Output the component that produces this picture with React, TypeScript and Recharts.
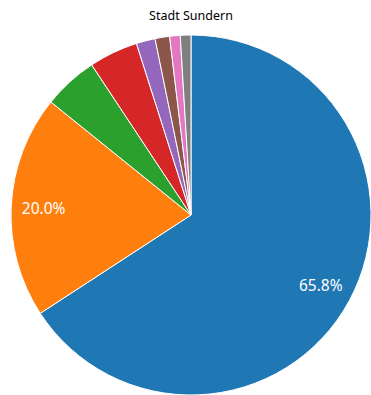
import { PieChart, Pie, Cell } from 'recharts'

const labels = ['A', 'B', 'C', 'D', 'E', 'F', 'G', 'H']
const shares = [65.8, 20.0, 4.9, 4.4, 1.7, 1.3, 0.95, 0.95]
const colors = ['#1f77b4', '#ff7f0e', '#2ca02c', '#d62728', '#9467bd', '#8c564b', '#e377c2', '#7f7f7f']
const title = 'Stadt Sundern'

const RAD = Math.PI / 180

// eslint-disable-next-line @typescript-eslint/no-explicit-any
const renderLabel = ({ cx, cy, midAngle, outerRadius, value }: any) => {
  if (value < 10) return null
  const r = outerRadius * 0.82
  const x = cx + r * Math.cos(-midAngle * RAD)
  const y = cy + r * Math.sin(-midAngle * RAD)
  return (
    <text x={x} y={y} fill="#fff" fontSize={15.5} textAnchor="middle" dominantBaseline="central" fontFamily="'Noto Sans', sans-serif">
      {`${value.toFixed(1)}%`}
    </text>
  )
}

export default function App() {
  const data = labels.map((name, i) => ({ name, value: shares[i] }))
  return (
    <div style={{ position: 'absolute', left: 0, top: 0, width: 371, height: 395, background: '#fff' }}>
      <PieChart width={371} height={395} margin={{ top: 0, right: 0, bottom: 0, left: 0 }}>
        <text x={191} y={15} textAnchor="middle" dominantBaseline="central" fontSize={12.5} fill="#000" fontFamily="'Noto Sans', sans-serif">{title}</text>
        <Pie
          data={data}
          dataKey="value"
          cx={191}
          cy={215}
          outerRadius={180}
          startAngle={90}
          endAngle={-270}
          stroke="#fff"
          strokeWidth={1}
          label={renderLabel}
          labelLine={false}
          isAnimationActive={false}
        >
          {data.map((d, i) => <Cell key={d.name} fill={colors[i]} />)}
        </Pie>
      </PieChart>
    </div>
  )
}
